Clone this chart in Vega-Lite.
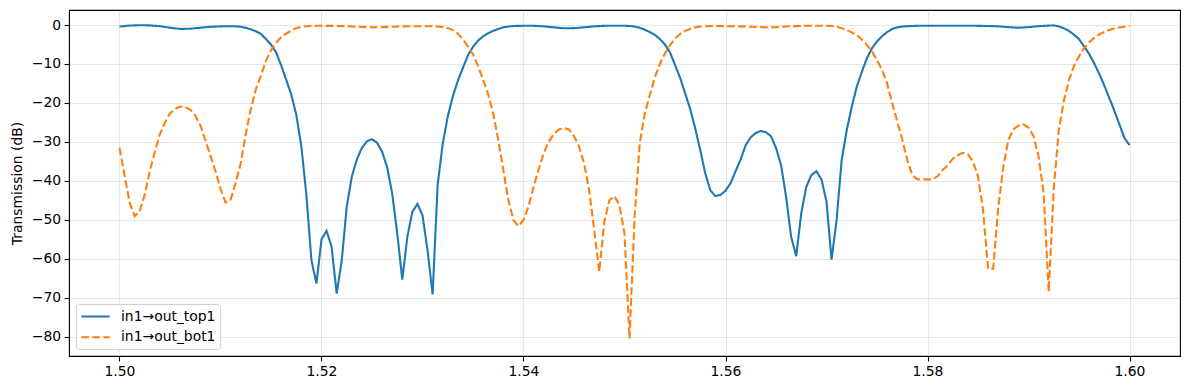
{
"$schema":"https://vega.github.io/schema/vega-lite/v6.json",
"width":1111,"height":346,
"autosize":{"type":"none"},
"padding":{"left":69,"top":10,"right":9,"bottom":34},
"config":{
 "font":"DejaVu Sans",
 "view":{"stroke":"black","strokeWidth":1.1},
 "axis":{"domain":false,"grid":true,"gridColor":"#b0b0b0","gridOpacity":0.32,"gridWidth":1.1,"tickColor":"black","tickSize":4.9,"tickWidth":1.1,"labelFont":"DejaVu Sans","labelFontSize":13.9,"labelColor":"black","labelPadding":3.5,"titleFont":"DejaVu Sans","titleFontSize":13.9,"titleFontWeight":"normal","titleColor":"black"},
 "legend":{"orient":"bottom-left","offset":7,"padding":4,"fillColor":"white","strokeColor":"#d0d0d0","strokeWidth":1,"cornerRadius":3,"labelFont":"DejaVu Sans","labelFontSize":13.9,"labelColor":"black","symbolType":"M-2,0H2","symbolSize":200,"symbolStrokeWidth":2.1,"symbolOffset":7,"labelOffset":17,"rowPadding":4.7,"title":null}
},
"data":{"values":[
{"wl":1.5000,"dB":-0.4,"s":"in1→out_top1"},
{"wl":1.5010,"dB":-0.15,"s":"in1→out_top1"},
{"wl":1.5020,"dB":-0.05,"s":"in1→out_top1"},
{"wl":1.5030,"dB":-0.1,"s":"in1→out_top1"},
{"wl":1.5040,"dB":-0.3,"s":"in1→out_top1"},
{"wl":1.5050,"dB":-0.7,"s":"in1→out_top1"},
{"wl":1.5060,"dB":-1.0,"s":"in1→out_top1"},
{"wl":1.5070,"dB":-0.95,"s":"in1→out_top1"},
{"wl":1.5080,"dB":-0.7,"s":"in1→out_top1"},
{"wl":1.5090,"dB":-0.45,"s":"in1→out_top1"},
{"wl":1.5100,"dB":-0.35,"s":"in1→out_top1"},
{"wl":1.5110,"dB":-0.3,"s":"in1→out_top1"},
{"wl":1.5115,"dB":-0.35,"s":"in1→out_top1"},
{"wl":1.5120,"dB":-0.45,"s":"in1→out_top1"},
{"wl":1.5125,"dB":-0.7,"s":"in1→out_top1"},
{"wl":1.5130,"dB":-1.1,"s":"in1→out_top1"},
{"wl":1.5135,"dB":-1.6,"s":"in1→out_top1"},
{"wl":1.5140,"dB":-2.3,"s":"in1→out_top1"},
{"wl":1.5145,"dB":-3.6,"s":"in1→out_top1"},
{"wl":1.5150,"dB":-5.0,"s":"in1→out_top1"},
{"wl":1.5155,"dB":-7.0,"s":"in1→out_top1"},
{"wl":1.5160,"dB":-10.3,"s":"in1→out_top1"},
{"wl":1.5165,"dB":-14.0,"s":"in1→out_top1"},
{"wl":1.5170,"dB":-17.8,"s":"in1→out_top1"},
{"wl":1.5175,"dB":-23.0,"s":"in1→out_top1"},
{"wl":1.5180,"dB":-31.0,"s":"in1→out_top1"},
{"wl":1.5185,"dB":-43.5,"s":"in1→out_top1"},
{"wl":1.5190,"dB":-60.3,"s":"in1→out_top1"},
{"wl":1.5195,"dB":-66.3,"s":"in1→out_top1"},
{"wl":1.5200,"dB":-55.0,"s":"in1→out_top1"},
{"wl":1.5205,"dB":-52.8,"s":"in1→out_top1"},
{"wl":1.5210,"dB":-56.9,"s":"in1→out_top1"},
{"wl":1.5215,"dB":-68.9,"s":"in1→out_top1"},
{"wl":1.5220,"dB":-60.5,"s":"in1→out_top1"},
{"wl":1.5225,"dB":-46.6,"s":"in1→out_top1"},
{"wl":1.5230,"dB":-38.9,"s":"in1→out_top1"},
{"wl":1.5235,"dB":-34.5,"s":"in1→out_top1"},
{"wl":1.5240,"dB":-31.5,"s":"in1→out_top1"},
{"wl":1.5245,"dB":-29.8,"s":"in1→out_top1"},
{"wl":1.5250,"dB":-29.3,"s":"in1→out_top1"},
{"wl":1.5255,"dB":-30.2,"s":"in1→out_top1"},
{"wl":1.5260,"dB":-32.5,"s":"in1→out_top1"},
{"wl":1.5265,"dB":-36.5,"s":"in1→out_top1"},
{"wl":1.5270,"dB":-43.2,"s":"in1→out_top1"},
{"wl":1.5275,"dB":-53.5,"s":"in1→out_top1"},
{"wl":1.5280,"dB":-65.3,"s":"in1→out_top1"},
{"wl":1.5285,"dB":-54.3,"s":"in1→out_top1"},
{"wl":1.5290,"dB":-47.9,"s":"in1→out_top1"},
{"wl":1.5295,"dB":-45.9,"s":"in1→out_top1"},
{"wl":1.5300,"dB":-48.8,"s":"in1→out_top1"},
{"wl":1.5305,"dB":-57.8,"s":"in1→out_top1"},
{"wl":1.5310,"dB":-69.1,"s":"in1→out_top1"},
{"wl":1.5315,"dB":-41.0,"s":"in1→out_top1"},
{"wl":1.5320,"dB":-30.5,"s":"in1→out_top1"},
{"wl":1.5325,"dB":-23.5,"s":"in1→out_top1"},
{"wl":1.5330,"dB":-18.3,"s":"in1→out_top1"},
{"wl":1.5335,"dB":-14.3,"s":"in1→out_top1"},
{"wl":1.5340,"dB":-11.0,"s":"in1→out_top1"},
{"wl":1.5345,"dB":-7.8,"s":"in1→out_top1"},
{"wl":1.5350,"dB":-5.6,"s":"in1→out_top1"},
{"wl":1.5355,"dB":-4.0,"s":"in1→out_top1"},
{"wl":1.5360,"dB":-2.9,"s":"in1→out_top1"},
{"wl":1.5365,"dB":-2.1,"s":"in1→out_top1"},
{"wl":1.5370,"dB":-1.5,"s":"in1→out_top1"},
{"wl":1.5375,"dB":-1.0,"s":"in1→out_top1"},
{"wl":1.5380,"dB":-0.6,"s":"in1→out_top1"},
{"wl":1.5385,"dB":-0.4,"s":"in1→out_top1"},
{"wl":1.5390,"dB":-0.25,"s":"in1→out_top1"},
{"wl":1.5400,"dB":-0.2,"s":"in1→out_top1"},
{"wl":1.5410,"dB":-0.2,"s":"in1→out_top1"},
{"wl":1.5420,"dB":-0.35,"s":"in1→out_top1"},
{"wl":1.5430,"dB":-0.6,"s":"in1→out_top1"},
{"wl":1.5440,"dB":-0.85,"s":"in1→out_top1"},
{"wl":1.5450,"dB":-0.8,"s":"in1→out_top1"},
{"wl":1.5460,"dB":-0.6,"s":"in1→out_top1"},
{"wl":1.5470,"dB":-0.35,"s":"in1→out_top1"},
{"wl":1.5480,"dB":-0.2,"s":"in1→out_top1"},
{"wl":1.5490,"dB":-0.2,"s":"in1→out_top1"},
{"wl":1.5500,"dB":-0.2,"s":"in1→out_top1"},
{"wl":1.5505,"dB":-0.25,"s":"in1→out_top1"},
{"wl":1.5510,"dB":-0.4,"s":"in1→out_top1"},
{"wl":1.5515,"dB":-0.7,"s":"in1→out_top1"},
{"wl":1.5520,"dB":-1.2,"s":"in1→out_top1"},
{"wl":1.5525,"dB":-1.8,"s":"in1→out_top1"},
{"wl":1.5530,"dB":-2.5,"s":"in1→out_top1"},
{"wl":1.5535,"dB":-3.6,"s":"in1→out_top1"},
{"wl":1.5540,"dB":-5.0,"s":"in1→out_top1"},
{"wl":1.5545,"dB":-7.0,"s":"in1→out_top1"},
{"wl":1.5550,"dB":-10.2,"s":"in1→out_top1"},
{"wl":1.5555,"dB":-13.5,"s":"in1→out_top1"},
{"wl":1.5560,"dB":-17.5,"s":"in1→out_top1"},
{"wl":1.5565,"dB":-21.5,"s":"in1→out_top1"},
{"wl":1.5570,"dB":-26.5,"s":"in1→out_top1"},
{"wl":1.5575,"dB":-32.1,"s":"in1→out_top1"},
{"wl":1.5580,"dB":-38.1,"s":"in1→out_top1"},
{"wl":1.5585,"dB":-42.4,"s":"in1→out_top1"},
{"wl":1.5590,"dB":-43.9,"s":"in1→out_top1"},
{"wl":1.5595,"dB":-43.6,"s":"in1→out_top1"},
{"wl":1.5600,"dB":-42.5,"s":"in1→out_top1"},
{"wl":1.5605,"dB":-40.6,"s":"in1→out_top1"},
{"wl":1.5610,"dB":-37.5,"s":"in1→out_top1"},
{"wl":1.5615,"dB":-34.5,"s":"in1→out_top1"},
{"wl":1.5620,"dB":-30.8,"s":"in1→out_top1"},
{"wl":1.5625,"dB":-28.8,"s":"in1→out_top1"},
{"wl":1.5630,"dB":-27.7,"s":"in1→out_top1"},
{"wl":1.5635,"dB":-27.2,"s":"in1→out_top1"},
{"wl":1.5640,"dB":-27.5,"s":"in1→out_top1"},
{"wl":1.5645,"dB":-28.5,"s":"in1→out_top1"},
{"wl":1.5650,"dB":-31.5,"s":"in1→out_top1"},
{"wl":1.5655,"dB":-35.9,"s":"in1→out_top1"},
{"wl":1.5660,"dB":-44.1,"s":"in1→out_top1"},
{"wl":1.5665,"dB":-54.3,"s":"in1→out_top1"},
{"wl":1.5670,"dB":-59.3,"s":"in1→out_top1"},
{"wl":1.5675,"dB":-48.3,"s":"in1→out_top1"},
{"wl":1.5680,"dB":-41.5,"s":"in1→out_top1"},
{"wl":1.5685,"dB":-38.5,"s":"in1→out_top1"},
{"wl":1.5690,"dB":-37.5,"s":"in1→out_top1"},
{"wl":1.5695,"dB":-39.6,"s":"in1→out_top1"},
{"wl":1.5700,"dB":-45.3,"s":"in1→out_top1"},
{"wl":1.5705,"dB":-60.2,"s":"in1→out_top1"},
{"wl":1.5710,"dB":-50.0,"s":"in1→out_top1"},
{"wl":1.5715,"dB":-34.7,"s":"in1→out_top1"},
{"wl":1.5720,"dB":-27.0,"s":"in1→out_top1"},
{"wl":1.5725,"dB":-21.0,"s":"in1→out_top1"},
{"wl":1.5730,"dB":-15.8,"s":"in1→out_top1"},
{"wl":1.5735,"dB":-12.0,"s":"in1→out_top1"},
{"wl":1.5740,"dB":-8.5,"s":"in1→out_top1"},
{"wl":1.5745,"dB":-6.0,"s":"in1→out_top1"},
{"wl":1.5750,"dB":-4.2,"s":"in1→out_top1"},
{"wl":1.5755,"dB":-2.9,"s":"in1→out_top1"},
{"wl":1.5760,"dB":-1.8,"s":"in1→out_top1"},
{"wl":1.5765,"dB":-1.0,"s":"in1→out_top1"},
{"wl":1.5770,"dB":-0.6,"s":"in1→out_top1"},
{"wl":1.5775,"dB":-0.4,"s":"in1→out_top1"},
{"wl":1.5780,"dB":-0.3,"s":"in1→out_top1"},
{"wl":1.5790,"dB":-0.2,"s":"in1→out_top1"},
{"wl":1.5800,"dB":-0.2,"s":"in1→out_top1"},
{"wl":1.5820,"dB":-0.2,"s":"in1→out_top1"},
{"wl":1.5845,"dB":-0.2,"s":"in1→out_top1"},
{"wl":1.5860,"dB":-0.25,"s":"in1→out_top1"},
{"wl":1.5870,"dB":-0.35,"s":"in1→out_top1"},
{"wl":1.5880,"dB":-0.55,"s":"in1→out_top1"},
{"wl":1.5890,"dB":-0.7,"s":"in1→out_top1"},
{"wl":1.5900,"dB":-0.55,"s":"in1→out_top1"},
{"wl":1.5910,"dB":-0.3,"s":"in1→out_top1"},
{"wl":1.5920,"dB":-0.15,"s":"in1→out_top1"},
{"wl":1.5925,"dB":-0.1,"s":"in1→out_top1"},
{"wl":1.5930,"dB":-0.35,"s":"in1→out_top1"},
{"wl":1.5935,"dB":-0.85,"s":"in1→out_top1"},
{"wl":1.5940,"dB":-1.5,"s":"in1→out_top1"},
{"wl":1.5945,"dB":-2.5,"s":"in1→out_top1"},
{"wl":1.5950,"dB":-3.6,"s":"in1→out_top1"},
{"wl":1.5955,"dB":-5.5,"s":"in1→out_top1"},
{"wl":1.5960,"dB":-7.4,"s":"in1→out_top1"},
{"wl":1.5965,"dB":-9.8,"s":"in1→out_top1"},
{"wl":1.5970,"dB":-12.5,"s":"in1→out_top1"},
{"wl":1.5975,"dB":-15.5,"s":"in1→out_top1"},
{"wl":1.5980,"dB":-18.7,"s":"in1→out_top1"},
{"wl":1.5985,"dB":-22.0,"s":"in1→out_top1"},
{"wl":1.5990,"dB":-25.5,"s":"in1→out_top1"},
{"wl":1.5995,"dB":-29.0,"s":"in1→out_top1"},
{"wl":1.6000,"dB":-30.8,"s":"in1→out_top1"},
{"wl":1.5000,"dB":-31.5,"s":"in1→out_bot1"},
{"wl":1.5005,"dB":-38.5,"s":"in1→out_bot1"},
{"wl":1.5010,"dB":-45.5,"s":"in1→out_bot1"},
{"wl":1.5015,"dB":-49.0,"s":"in1→out_bot1"},
{"wl":1.5020,"dB":-47.8,"s":"in1→out_bot1"},
{"wl":1.5025,"dB":-43.5,"s":"in1→out_bot1"},
{"wl":1.5030,"dB":-37.5,"s":"in1→out_bot1"},
{"wl":1.5035,"dB":-32.5,"s":"in1→out_bot1"},
{"wl":1.5040,"dB":-28.0,"s":"in1→out_bot1"},
{"wl":1.5045,"dB":-25.0,"s":"in1→out_bot1"},
{"wl":1.5050,"dB":-22.7,"s":"in1→out_bot1"},
{"wl":1.5055,"dB":-21.5,"s":"in1→out_bot1"},
{"wl":1.5060,"dB":-20.9,"s":"in1→out_bot1"},
{"wl":1.5065,"dB":-21.0,"s":"in1→out_bot1"},
{"wl":1.5070,"dB":-21.7,"s":"in1→out_bot1"},
{"wl":1.5075,"dB":-23.2,"s":"in1→out_bot1"},
{"wl":1.5080,"dB":-25.7,"s":"in1→out_bot1"},
{"wl":1.5085,"dB":-29.5,"s":"in1→out_bot1"},
{"wl":1.5090,"dB":-33.5,"s":"in1→out_bot1"},
{"wl":1.5095,"dB":-37.5,"s":"in1→out_bot1"},
{"wl":1.5100,"dB":-42.0,"s":"in1→out_bot1"},
{"wl":1.5105,"dB":-45.5,"s":"in1→out_bot1"},
{"wl":1.5110,"dB":-44.8,"s":"in1→out_bot1"},
{"wl":1.5115,"dB":-40.5,"s":"in1→out_bot1"},
{"wl":1.5120,"dB":-35.5,"s":"in1→out_bot1"},
{"wl":1.5125,"dB":-28.0,"s":"in1→out_bot1"},
{"wl":1.5130,"dB":-21.5,"s":"in1→out_bot1"},
{"wl":1.5135,"dB":-16.5,"s":"in1→out_bot1"},
{"wl":1.5140,"dB":-13.0,"s":"in1→out_bot1"},
{"wl":1.5145,"dB":-9.2,"s":"in1→out_bot1"},
{"wl":1.5150,"dB":-6.5,"s":"in1→out_bot1"},
{"wl":1.5155,"dB":-4.6,"s":"in1→out_bot1"},
{"wl":1.5160,"dB":-3.1,"s":"in1→out_bot1"},
{"wl":1.5165,"dB":-2.2,"s":"in1→out_bot1"},
{"wl":1.5170,"dB":-1.4,"s":"in1→out_bot1"},
{"wl":1.5175,"dB":-0.8,"s":"in1→out_bot1"},
{"wl":1.5180,"dB":-0.45,"s":"in1→out_bot1"},
{"wl":1.5185,"dB":-0.3,"s":"in1→out_bot1"},
{"wl":1.5190,"dB":-0.2,"s":"in1→out_bot1"},
{"wl":1.5200,"dB":-0.2,"s":"in1→out_bot1"},
{"wl":1.5220,"dB":-0.25,"s":"in1→out_bot1"},
{"wl":1.5240,"dB":-0.5,"s":"in1→out_bot1"},
{"wl":1.5250,"dB":-0.6,"s":"in1→out_bot1"},
{"wl":1.5260,"dB":-0.55,"s":"in1→out_bot1"},
{"wl":1.5280,"dB":-0.35,"s":"in1→out_bot1"},
{"wl":1.5300,"dB":-0.3,"s":"in1→out_bot1"},
{"wl":1.5310,"dB":-0.3,"s":"in1→out_bot1"},
{"wl":1.5315,"dB":-0.4,"s":"in1→out_bot1"},
{"wl":1.5320,"dB":-0.55,"s":"in1→out_bot1"},
{"wl":1.5325,"dB":-0.8,"s":"in1→out_bot1"},
{"wl":1.5330,"dB":-1.3,"s":"in1→out_bot1"},
{"wl":1.5335,"dB":-2.2,"s":"in1→out_bot1"},
{"wl":1.5340,"dB":-3.7,"s":"in1→out_bot1"},
{"wl":1.5345,"dB":-5.5,"s":"in1→out_bot1"},
{"wl":1.5350,"dB":-7.5,"s":"in1→out_bot1"},
{"wl":1.5355,"dB":-10.5,"s":"in1→out_bot1"},
{"wl":1.5360,"dB":-14.0,"s":"in1→out_bot1"},
{"wl":1.5365,"dB":-17.8,"s":"in1→out_bot1"},
{"wl":1.5370,"dB":-22.7,"s":"in1→out_bot1"},
{"wl":1.5375,"dB":-29.5,"s":"in1→out_bot1"},
{"wl":1.5380,"dB":-37.2,"s":"in1→out_bot1"},
{"wl":1.5385,"dB":-44.9,"s":"in1→out_bot1"},
{"wl":1.5390,"dB":-50.0,"s":"in1→out_bot1"},
{"wl":1.5395,"dB":-51.6,"s":"in1→out_bot1"},
{"wl":1.5400,"dB":-50.0,"s":"in1→out_bot1"},
{"wl":1.5405,"dB":-46.5,"s":"in1→out_bot1"},
{"wl":1.5410,"dB":-41.5,"s":"in1→out_bot1"},
{"wl":1.5415,"dB":-37.0,"s":"in1→out_bot1"},
{"wl":1.5420,"dB":-32.9,"s":"in1→out_bot1"},
{"wl":1.5425,"dB":-30.0,"s":"in1→out_bot1"},
{"wl":1.5430,"dB":-28.0,"s":"in1→out_bot1"},
{"wl":1.5435,"dB":-26.8,"s":"in1→out_bot1"},
{"wl":1.5440,"dB":-26.4,"s":"in1→out_bot1"},
{"wl":1.5445,"dB":-26.8,"s":"in1→out_bot1"},
{"wl":1.5450,"dB":-28.5,"s":"in1→out_bot1"},
{"wl":1.5455,"dB":-31.2,"s":"in1→out_bot1"},
{"wl":1.5460,"dB":-35.5,"s":"in1→out_bot1"},
{"wl":1.5465,"dB":-42.4,"s":"in1→out_bot1"},
{"wl":1.5470,"dB":-52.5,"s":"in1→out_bot1"},
{"wl":1.5475,"dB":-63.3,"s":"in1→out_bot1"},
{"wl":1.5480,"dB":-50.5,"s":"in1→out_bot1"},
{"wl":1.5485,"dB":-45.0,"s":"in1→out_bot1"},
{"wl":1.5490,"dB":-43.9,"s":"in1→out_bot1"},
{"wl":1.5495,"dB":-46.2,"s":"in1→out_bot1"},
{"wl":1.5500,"dB":-53.5,"s":"in1→out_bot1"},
{"wl":1.5505,"dB":-80.4,"s":"in1→out_bot1"},
{"wl":1.5510,"dB":-49.2,"s":"in1→out_bot1"},
{"wl":1.5515,"dB":-30.5,"s":"in1→out_bot1"},
{"wl":1.5520,"dB":-22.8,"s":"in1→out_bot1"},
{"wl":1.5525,"dB":-18.0,"s":"in1→out_bot1"},
{"wl":1.5530,"dB":-13.5,"s":"in1→out_bot1"},
{"wl":1.5535,"dB":-10.0,"s":"in1→out_bot1"},
{"wl":1.5540,"dB":-7.3,"s":"in1→out_bot1"},
{"wl":1.5545,"dB":-5.2,"s":"in1→out_bot1"},
{"wl":1.5550,"dB":-3.5,"s":"in1→out_bot1"},
{"wl":1.5555,"dB":-2.3,"s":"in1→out_bot1"},
{"wl":1.5560,"dB":-1.5,"s":"in1→out_bot1"},
{"wl":1.5565,"dB":-1.0,"s":"in1→out_bot1"},
{"wl":1.5570,"dB":-0.6,"s":"in1→out_bot1"},
{"wl":1.5575,"dB":-0.4,"s":"in1→out_bot1"},
{"wl":1.5580,"dB":-0.3,"s":"in1→out_bot1"},
{"wl":1.5590,"dB":-0.25,"s":"in1→out_bot1"},
{"wl":1.5600,"dB":-0.3,"s":"in1→out_bot1"},
{"wl":1.5620,"dB":-0.4,"s":"in1→out_bot1"},
{"wl":1.5640,"dB":-0.6,"s":"in1→out_bot1"},
{"wl":1.5650,"dB":-0.55,"s":"in1→out_bot1"},
{"wl":1.5665,"dB":-0.3,"s":"in1→out_bot1"},
{"wl":1.5680,"dB":-0.2,"s":"in1→out_bot1"},
{"wl":1.5700,"dB":-0.2,"s":"in1→out_bot1"},
{"wl":1.5705,"dB":-0.25,"s":"in1→out_bot1"},
{"wl":1.5710,"dB":-0.4,"s":"in1→out_bot1"},
{"wl":1.5715,"dB":-0.8,"s":"in1→out_bot1"},
{"wl":1.5720,"dB":-1.3,"s":"in1→out_bot1"},
{"wl":1.5725,"dB":-1.9,"s":"in1→out_bot1"},
{"wl":1.5730,"dB":-2.6,"s":"in1→out_bot1"},
{"wl":1.5735,"dB":-3.7,"s":"in1→out_bot1"},
{"wl":1.5740,"dB":-5.1,"s":"in1→out_bot1"},
{"wl":1.5745,"dB":-6.8,"s":"in1→out_bot1"},
{"wl":1.5750,"dB":-9.0,"s":"in1→out_bot1"},
{"wl":1.5755,"dB":-11.5,"s":"in1→out_bot1"},
{"wl":1.5760,"dB":-15.0,"s":"in1→out_bot1"},
{"wl":1.5765,"dB":-20.0,"s":"in1→out_bot1"},
{"wl":1.5770,"dB":-24.7,"s":"in1→out_bot1"},
{"wl":1.5775,"dB":-29.3,"s":"in1→out_bot1"},
{"wl":1.5780,"dB":-34.7,"s":"in1→out_bot1"},
{"wl":1.5785,"dB":-38.5,"s":"in1→out_bot1"},
{"wl":1.5790,"dB":-39.6,"s":"in1→out_bot1"},
{"wl":1.5795,"dB":-39.6,"s":"in1→out_bot1"},
{"wl":1.5800,"dB":-39.6,"s":"in1→out_bot1"},
{"wl":1.5805,"dB":-39.6,"s":"in1→out_bot1"},
{"wl":1.5810,"dB":-38.8,"s":"in1→out_bot1"},
{"wl":1.5815,"dB":-37.2,"s":"in1→out_bot1"},
{"wl":1.5820,"dB":-36.0,"s":"in1→out_bot1"},
{"wl":1.5825,"dB":-34.3,"s":"in1→out_bot1"},
{"wl":1.5830,"dB":-33.4,"s":"in1→out_bot1"},
{"wl":1.5835,"dB":-32.8,"s":"in1→out_bot1"},
{"wl":1.5840,"dB":-33.2,"s":"in1→out_bot1"},
{"wl":1.5845,"dB":-35.0,"s":"in1→out_bot1"},
{"wl":1.5850,"dB":-38.8,"s":"in1→out_bot1"},
{"wl":1.5855,"dB":-47.5,"s":"in1→out_bot1"},
{"wl":1.5860,"dB":-62.5,"s":"in1→out_bot1"},
{"wl":1.5865,"dB":-62.5,"s":"in1→out_bot1"},
{"wl":1.5870,"dB":-47.0,"s":"in1→out_bot1"},
{"wl":1.5875,"dB":-36.5,"s":"in1→out_bot1"},
{"wl":1.5880,"dB":-29.5,"s":"in1→out_bot1"},
{"wl":1.5885,"dB":-26.8,"s":"in1→out_bot1"},
{"wl":1.5890,"dB":-25.8,"s":"in1→out_bot1"},
{"wl":1.5895,"dB":-25.5,"s":"in1→out_bot1"},
{"wl":1.5900,"dB":-26.3,"s":"in1→out_bot1"},
{"wl":1.5905,"dB":-28.5,"s":"in1→out_bot1"},
{"wl":1.5910,"dB":-33.8,"s":"in1→out_bot1"},
{"wl":1.5915,"dB":-43.2,"s":"in1→out_bot1"},
{"wl":1.5920,"dB":-68.4,"s":"in1→out_bot1"},
{"wl":1.5925,"dB":-42.0,"s":"in1→out_bot1"},
{"wl":1.5930,"dB":-27.0,"s":"in1→out_bot1"},
{"wl":1.5935,"dB":-19.5,"s":"in1→out_bot1"},
{"wl":1.5940,"dB":-14.1,"s":"in1→out_bot1"},
{"wl":1.5945,"dB":-10.5,"s":"in1→out_bot1"},
{"wl":1.5950,"dB":-8.0,"s":"in1→out_bot1"},
{"wl":1.5955,"dB":-6.0,"s":"in1→out_bot1"},
{"wl":1.5960,"dB":-4.5,"s":"in1→out_bot1"},
{"wl":1.5965,"dB":-3.3,"s":"in1→out_bot1"},
{"wl":1.5970,"dB":-2.4,"s":"in1→out_bot1"},
{"wl":1.5975,"dB":-1.8,"s":"in1→out_bot1"},
{"wl":1.5980,"dB":-1.3,"s":"in1→out_bot1"},
{"wl":1.5985,"dB":-0.9,"s":"in1→out_bot1"},
{"wl":1.5990,"dB":-0.65,"s":"in1→out_bot1"},
{"wl":1.5995,"dB":-0.45,"s":"in1→out_bot1"},
{"wl":1.6000,"dB":-0.3,"s":"in1→out_bot1"}
]},
"mark":{"type":"line","strokeWidth":2.1,"interpolate":"linear"},
"encoding":{
 "x":{"field":"wl","type":"quantitative","title":null,
  "scale":{"domain":[1.495,1.605],"nice":false,"zero":false},
  "axis":{"values":[1.50,1.52,1.54,1.56,1.58,1.60],"format":".2f"}},
 "y":{"field":"dB","type":"quantitative","title":"Transmission (dB)",
  "scale":{"domain":[-84.9,3.85],"nice":false,"zero":false},
  "axis":{"values":[0,-10,-20,-30,-40,-50,-60,-70,-80],"format":"d","titleX":-52,"titleY":173,"titleAngle":-90,"titleAlign":"center","titleBaseline":"middle"}},
 "color":{"field":"s","type":"nominal","sort":["in1→out_top1","in1→out_bot1"],
  "scale":{"domain":["in1→out_top1","in1→out_bot1"],"range":["#1f77b4","#ff7f0e"]}},
 "strokeDash":{"field":"s","type":"nominal","sort":["in1→out_top1","in1→out_bot1"],
  "scale":{"domain":["in1→out_top1","in1→out_bot1"],"range":[[1,0],[7.7,3.3]]}}
}
}
